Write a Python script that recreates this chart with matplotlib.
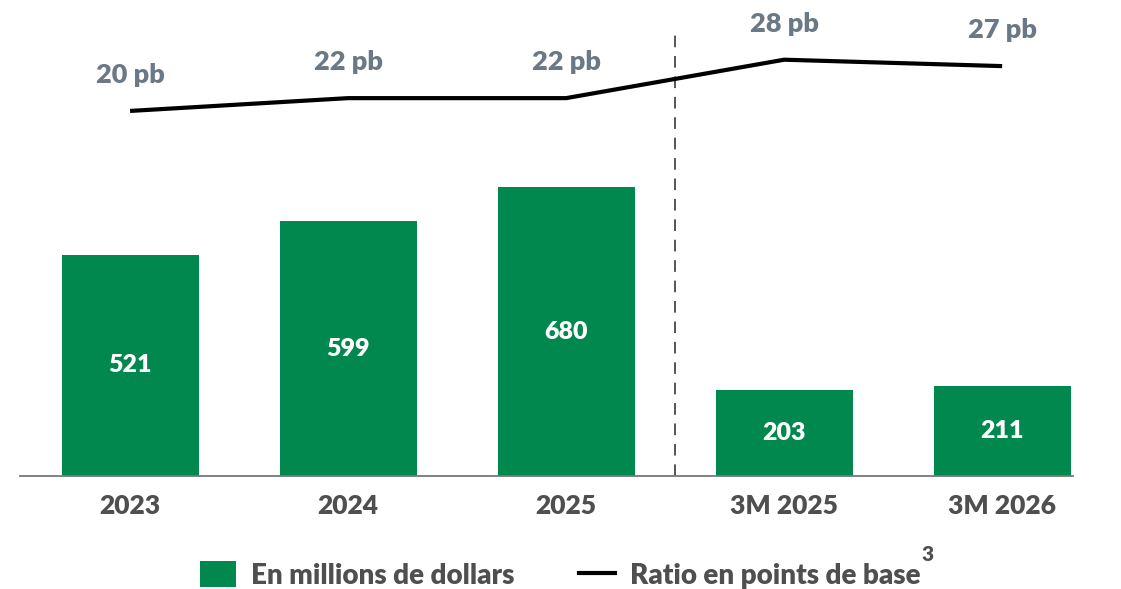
import matplotlib
matplotlib.use("Agg")
import matplotlib.pyplot as plt
from matplotlib.patches import Patch
from matplotlib.lines import Line2D

plt.rcParams['font.family'] = ['Lato', 'DejaVu Sans']
plt.rcParams['font.weight'] = 'bold'

# data
categories = ['2023', '2024', '2025', '3M 2025', '3M 2026']
amounts = [521, 599, 680, 203, 211]          # en millions de dollars
ratio_pb = [20, 22, 22, 28, 27]              # ratio en points de base

green = '#00884f'
label_gray = '#6b7886'
tick_gray = '#4f4f4f'
W = 'heavy'

fig = plt.figure(figsize=(11.21, 5.89), dpi=100)
ax = fig.add_axes([20 / 1121, 113 / 589, 1053 / 1121, 456 / 589])
x = list(range(len(categories)))

# bars with value labels inside
bars = ax.bar(x, amounts, width=0.628, color=green, zorder=2)
for b, v in zip(bars, amounts):
    ax.text(b.get_x() + b.get_width() / 2, v / 2, str(v), ha='center', va='center',
            color='white', fontsize=18, fontweight=W)

ax.set_xlim(-0.505, 4.325)
ax.set_ylim(0, 1073)
ax.set_xticks(x)
ax.set_xticklabels(categories, fontsize=19, fontweight=W, color=tick_gray)
ax.tick_params(axis='x', length=0, pad=13)
ax.set_yticks([])
for s in ['top', 'left', 'right']:
    ax.spines[s].set_visible(False)
ax.spines['bottom'].set_color('#777777')
ax.spines['bottom'].set_linewidth(1.3)

# separator between annual and quarterly figures
ax.axvline(2.5, ymin=0, ymax=441 / 456, color='#555555', lw=1.4,
           linestyle=(0, (6, 4.5)), zorder=1)

# ratio line on its own scale
ax2 = ax.twinx()
ax2.plot(x, ratio_pb, color='black', lw=3, solid_capstyle='butt', zorder=3)
ax2.set_ylim(-37.0, 34.2)
ax2.axis('off')
for xi, r in zip(x, ratio_pb):
    ax2.annotate(f'{r} pb', (xi, r), xytext=(0, 26), textcoords='offset points',
                 ha='center', va='center', fontsize=19.5, fontweight=W,
                 color=label_gray)

# legend
handles = [Patch(facecolor=green, edgecolor='none'),
           Line2D([], [], color='black', lw=3)]
leg = fig.legend(handles, ['En millions de dollars', 'Ratio en points de base'],
                 loc='center', bbox_to_anchor=(0.5, 14 / 589), ncol=2, frameon=False,
                 fontsize=20, handlelength=1.3, handleheight=1.05,
                 handletextpad=0.55, columnspacing=2.3)
for t in leg.get_texts():
    t.set_color(tick_gray)
    t.set_fontweight(W)

fig.canvas.draw()
bb = leg.get_texts()[1].get_window_extent()
inv = fig.transFigure.inverted()
px, py = inv.transform((bb.x1 + 1, bb.y1 + 8))
fig.text(px, py, '3', fontsize=15, fontweight=W, color=tick_gray,
         ha='left', va='center')

fig.savefig('out.png', dpi=100)
